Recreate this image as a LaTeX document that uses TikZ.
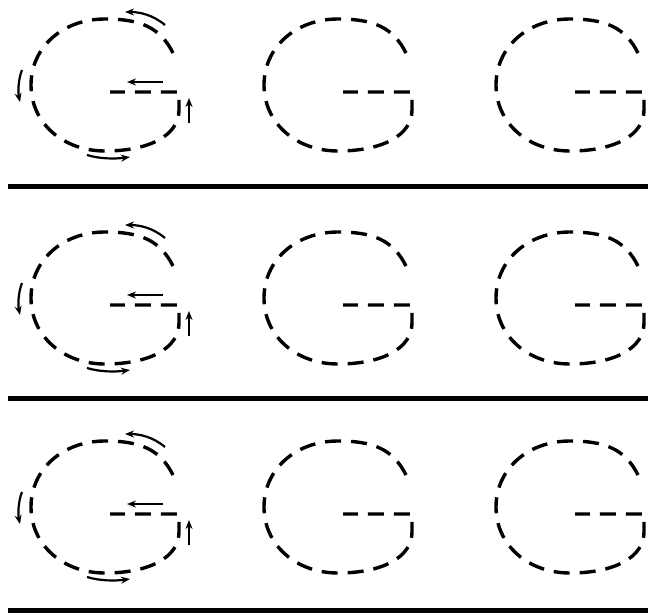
\documentclass[tikz,border=0pt]{standalone}
\usetikzlibrary{arrows.meta}
\tikzset{
  gstroke/.style={line width=3.4pt, dash pattern=on 16pt off 10pt, line cap=butt},
  garrow/.style={line width=2.2pt, -{Stealth[length=9pt,width=7pt]}},
  rule/.style={line width=5pt},
  gletter/.pic={
    \draw[gstroke] (68,-32) .. controls (55,-58) and (35,-66) .. (0,-66)
      .. controls (-42,-66) and (-74,-38) .. (-74,0)
      .. controls (-74,38) and (-42,66) .. (0,66)
      .. controls (45,66) and (74,50) .. (74,25)
      -- (74,7) -- (5,7);
  },
  garrows/.pic={
    \draw[garrow] (60,-60) .. controls (48,-70) and (35,-73) .. (20,-73);
    \draw[garrow] (-83,-15) .. controls (-87,-5) and (-87,8) .. (-85,17);
    \draw[garrow] (-18,70) .. controls (-5,74) and (10,74) .. (25,72);
    \draw[garrow] (58,-3) -- (22,-3);
    \draw[garrow] (84,38) -- (84,13);
  }
}
\begin{document}
\begin{tikzpicture}[x=1pt,y=-1pt]
  \useasboundingbox (0,0) rectangle (648,613);
  \foreach \cy in {85,298,507} {
    \pic at (105,\cy) {gletter};
    \pic at (105,\cy) {garrows};
    \pic at (338,\cy) {gletter};
    \pic at (570,\cy) {gletter};
  }
  \coordinate (r1a) at (8,186);  \coordinate (r1b) at (648,186);
  \coordinate (r2a) at (8,398);  \coordinate (r2b) at (648,398);
  \coordinate (r3a) at (8,610);  \coordinate (r3b) at (648,610);
  \draw[rule] (r1a) -- (r1b);
  \draw[rule] (r2a) -- (r2b);
  \draw[rule] (r3a) -- (r3b);
\end{tikzpicture}
\end{document}
